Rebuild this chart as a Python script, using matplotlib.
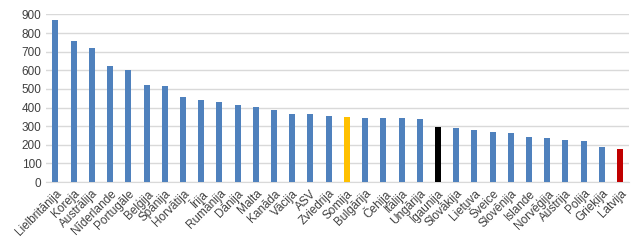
import matplotlib
matplotlib.use("Agg")
import matplotlib.pyplot as plt

countries = ["Lielbritānija", "Koreja", "Austrālija", "Nīderlande", "Portugāle", "Beļģija",
             "Spānija", "Horvātija", "Īrija", "Rumānija", "Dānija", "Malta", "Kanāda",
             "Vācija", "ASV", "Zviedrija", "Somija", "Bulgārija", "Čehija", "Itālija",
             "Ungārija", "Igaunija", "Slovākija", "Lietuva", "Šveice", "Slovēnija",
             "Islande", "Norvēģija", "Austrija", "Polija", "Grieķija", "Latvija"]
values = [870, 758, 720, 623, 601, 521, 516, 456, 440, 430, 413, 402, 386,
          365, 365, 354, 349, 344, 344, 344, 338, 295, 290, 279, 268, 263,
          241, 236, 225, 220, 188, 177]
highlight = {"Somija": "#FFC000", "Igaunija": "#000000", "Latvija": "#C00000"}

plt.rcParams["font.family"] = ["Liberation Sans", "DejaVu Sans"]

colors = [highlight.get(c, "#4F81BD") for c in countries]

fig = plt.figure(figsize=(6.44, 2.48), dpi=100)
ax = fig.add_axes([0.072, 0.266, 0.905, 0.676])
x = range(len(countries))
ax.bar(x, values, width=0.33, color=colors, zorder=3)

ax.set_xlim(-0.5, len(countries) - 0.5)
ax.set_ylim(0, 900)
ax.set_yticks(range(0, 901, 100))
ax.grid(axis="y", color="#D9D9D9", linewidth=1, zorder=0)
ax.set_xticks(list(x))
ax.set_xticklabels(countries, rotation=45, ha="right", rotation_mode="anchor")
ax.tick_params(axis="both", length=0, labelsize=8.5, colors="#404040")
ax.tick_params(axis="x", pad=4)
for s in ["top", "right", "left"]:
    ax.spines[s].set_visible(False)
ax.spines["bottom"].set_color("#D9D9D9")

fig.savefig("out.png", dpi=100)
